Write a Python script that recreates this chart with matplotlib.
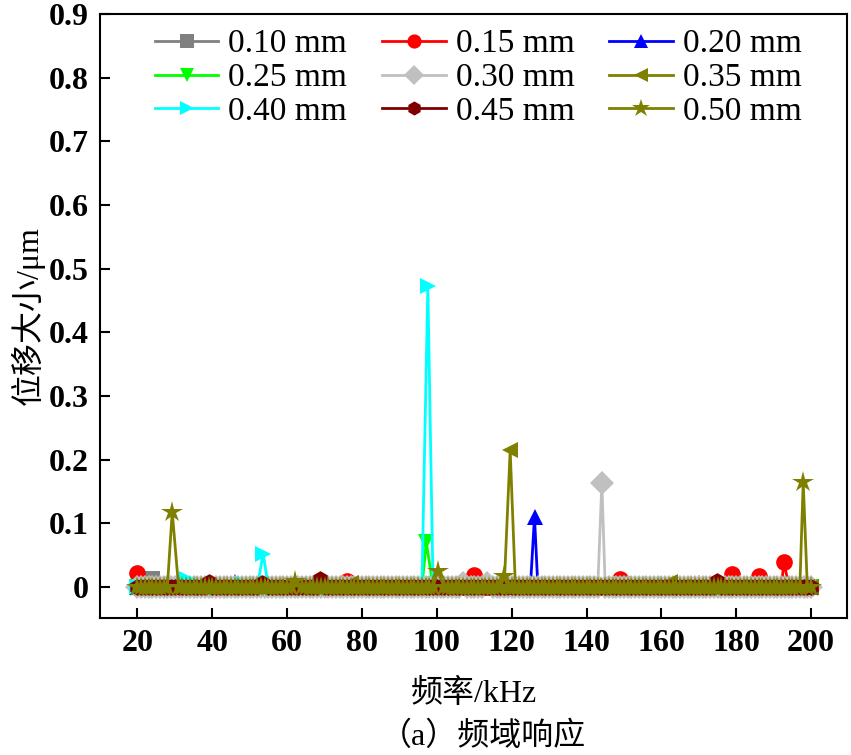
import numpy as np
import matplotlib
matplotlib.use('Agg')
import matplotlib.pyplot as plt

# frequency grid (kHz), spectra are ~0 except for the listed peaks
freq_grid = np.arange(20, 201, 1.0)

labels = ['0.10 mm', '0.15 mm', '0.20 mm', '0.25 mm', '0.30 mm',
          '0.35 mm', '0.40 mm', '0.45 mm', '0.50 mm']
colors = ['#808080', '#ff0000', '#0000ff', '#00ff00', '#c0c0c0',
          '#808000', '#00ffff', '#800000', '#808000']
markers = ['s', 'o', '^', 'v', 'D', '<', '>', 'h', '*']

# (frequency kHz, displacement um)
peaks_010 = [(24.0, 0.012), (108.0, 0.004), (150.0, 0.004)]
peaks_015 = [(20.0, 0.022), (76.0, 0.010), (110.0, 0.019), (149.0, 0.012),
             (179.0, 0.021), (186.0, 0.018), (192.8, 0.040)]
peaks_020 = [(46.0, 0.008), (126.1, 0.110), (170.0, 0.006)]
peaks_025 = [(97.2, 0.070)]
peaks_030 = [(107.0, 0.006), (113.5, 0.006), (144.1, 0.163)]
peaks_035 = [(77.0, 0.006), (119.6, 0.215), (162.3, 0.008)]
peaks_040 = [(33.3, 0.012), (48.3, 0.005), (53.6, 0.052), (97.6, 0.472)]
peaks_045 = [(39.0, 0.008), (53.3, 0.006), (68.9, 0.013), (174.8, 0.010)]
peaks_050 = [(29.3, 0.118), (62.2, 0.010), (100.2, 0.025), (118.0, 0.017),
             (197.9, 0.165)]
all_peaks = [peaks_010, peaks_015, peaks_020, peaks_025, peaks_030,
             peaks_035, peaks_040, peaks_045, peaks_050]


def build(peaks):
    pf = [p[0] for p in peaks]
    keep = [f for f in freq_grid if all(abs(f - q) > 0.8 for q in pf)]
    pts = sorted([(f, 0.0) for f in keep] + list(peaks))
    return np.array([p[0] for p in pts]), np.array([p[1] for p in pts])


cjk = ['Liberation Serif', 'Noto Sans CJK SC']
plt.rcParams['font.family'] = cjk

fig = plt.figure(figsize=(8.51, 7.55), dpi=100)
ax = fig.add_axes([100/851, 1-618/755, 747/851, 604/755])

handles = []
for lbl, c, m, pk in zip(labels, colors, markers, all_peaks):
    x, y = build(pk)
    ms = 16 if m == '*' else 12
    h, = ax.plot(x, y, color=c, marker=m, markersize=ms, lw=2, label=lbl,
                 markeredgewidth=0)
    handles.append(h)

ax.set_xlim(10, 209.6)
ax.set_ylim(-0.0487, 0.9)
ax.set_xticks(np.arange(20, 201, 20))
ax.set_yticks(np.arange(0, 0.91, 0.1))
ax.set_yticklabels(['0'] + [f'{v:.1f}' for v in np.arange(0.1, 0.91, 0.1)])
ax.tick_params(direction='in', length=7, width=1.5, labelsize=23, pad=8)
for t in ax.get_xticklabels() + ax.get_yticklabels():
    t.set_fontweight('bold')
for s in ax.spines.values():
    s.set_linewidth(1.5)

ax.set_xlabel('频率/kHz', fontsize=23)
ax.xaxis.set_label_coords(0.5, -0.101)
ax.set_ylabel('位移大小/μm', fontsize=23)
ax.yaxis.set_label_coords(-0.074, 0.5)

# legend is filled column-wise, reorder so it reads row-wise
order = [0, 3, 6, 1, 4, 7, 2, 5, 8]
ax.legend([handles[i] for i in order], [labels[i] for i in order],
          ncol=3, frameon=False, fontsize=24, loc='upper left',
          bbox_to_anchor=(155/851, 1-29/755), bbox_transform=fig.transFigure,
          borderpad=0, borderaxespad=0, labelspacing=0.1, handlelength=1.9,
          handletextpad=0.3, columnspacing=1.05, markerscale=0.85)

fig.text(483/851, 1-737/755, '（a）频域响应', fontsize=23,
         ha='center', va='center')

fig.savefig('out.png', dpi=100)
